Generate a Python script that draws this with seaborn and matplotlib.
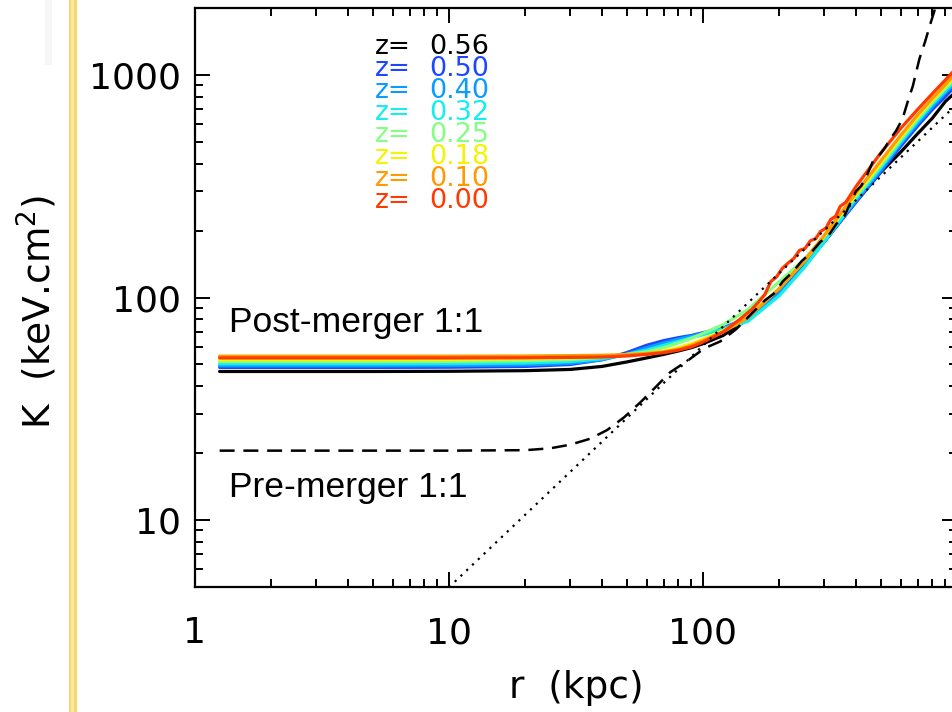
import numpy as np
import pandas as pd
import matplotlib
matplotlib.use("Agg")
import matplotlib.pyplot as plt
from matplotlib.patches import Rectangle
import seaborn as sns

# ---------------- data ----------------
R = [1.25, 5, 10, 20, 30, 40, 50, 60, 70, 80, 90, 100, 120, 150, 200, 250, 300,
     400, 500, 600, 700, 800, 900, 1000]

K_056 = [46.5, 46.5, 46.6, 46.9, 47.5, 49.0, 51.3, 53.5, 55.5, 57.5, 59.5, 62.0,
         67.5, 80, 108, 140, 178, 270, 365, 450, 545, 640, 760, 850]
K_050 = [48.5, 48.5, 48.6, 49.0, 50.0, 52.5, 56.5, 61.0, 64.0, 66.0, 67.5, 69.5,
         73.0, 81, 106, 138, 178, 268, 365, 478, 590, 700, 800, 910]
K_040 = [49.3, 49.3, 49.4, 49.8, 50.6, 52.5, 55.5, 59.5, 62.5, 65.0, 67.0, 69.0,
         73.0, 80, 104, 137, 178, 272, 372, 490, 605, 720, 830, 935]
K_032 = [50.3, 50.3, 50.4, 50.8, 51.5, 53.0, 55.5, 58.0, 61.0, 63.5, 66.0, 68.0,
         72.0, 78, 102, 136, 178, 278, 382, 500, 620, 740, 850, 960]
K_025 = [51.5, 51.5, 51.6, 52.0, 52.6, 53.8, 55.5, 57.0, 59.5, 62.5, 65.5, 69.0,
         75.5, 88, 118, 148, 188, 285, 392, 512, 635, 755, 870, 985]
K_018 = [52.5, 52.5, 52.6, 53.0, 53.5, 54.3, 55.0, 56.0, 57.5, 59.5, 62.0, 65.0,
         71.0, 82, 110, 145, 188, 290, 400, 525, 650, 770, 890, 1010]
K_010 = [54.5, 54.5, 54.5, 54.6, 54.8, 55.0, 55.4, 56.0, 57.0, 58.5, 61.0, 64.0,
         70.0, 81, 110, 146, 190, 295, 410, 535, 662, 785, 905, 1040]

R_000 = [1.25, 5, 10, 20, 30, 40, 50, 60, 70, 80, 90, 100, 120, 140, 155, 165, 175,
         185, 195, 205, 215, 228, 240, 252, 265, 278, 290, 305, 318, 333, 347, 365,
         400, 500, 600, 700, 800, 900, 1000]
K_000 = [53.5, 53.5, 53.5, 53.6, 53.8, 54.0, 54.6, 55.5, 56.5, 58.0, 60.0, 63.0,
         70.0, 80, 88, 95, 103, 118, 124, 135, 142, 150, 163, 166, 180, 184, 198,
         205, 224, 232, 257, 268, 315, 445, 575, 700, 825, 950, 1080]

# pre-merger profile (dashed)
R_pre = [1.25, 10, 20, 25, 30, 36, 42, 49, 57, 65, 74, 88, 101, 117, 135, 156, 175,
         190, 206, 225, 245, 265, 290, 310, 335, 360, 380, 400, 420, 440, 467, 490,
         520, 545, 575, 610, 640, 670, 711, 750, 781, 819, 860]
K_pre = [20.5, 20.5, 20.6, 21.0, 21.8, 23.2, 25.4, 29.0, 34.0, 39.5, 46.0, 52.5,
         59.0, 63.5, 72, 85, 97, 104, 118, 130, 146, 158, 178, 188, 214, 232, 265,
         300, 318, 350, 410, 430, 470, 515, 560, 634, 760, 892, 1180, 1420, 1662,
         1981, 2300]

# baseline power law (dotted)
R_dot = [9.0, 1000]
K_dot = [4.45, 740]

Z_LABELS = ["0.56", "0.50", "0.40", "0.32", "0.25", "0.18", "0.10", "0.00"]
Z_COLORS = ["#000000", "#1e46ff", "#0a9cff", "#14eeee", "#84ff84", "#f4f400",
            "#ff9a00", "#ff3a00"]
PROFILES = [(R, K_056), (R, K_050), (R, K_040), (R, K_032), (R, K_025),
            (R, K_018), (R, K_010), (R_000, K_000)]

X_TICKS = [1, 10, 100, 1000]
X_TICKLABELS = ["1", "10", "100", ""]
Y_TICKS = [10, 100, 1000]
Y_TICKLABELS = ["10", "100", "1000"]

# ---------------- styling ----------------
sns.set_theme(style="white")
plt.rcParams["font.family"] = ["DejaVu Sans"]
plt.rcParams["mathtext.fontset"] = "dejavusans"
plt.rcParams["text.color"] = "black"
plt.rcParams["axes.labelcolor"] = "black"
plt.rcParams["xtick.color"] = "black"
plt.rcParams["ytick.color"] = "black"

W, H = 953, 712
fig = plt.figure(figsize=(W / 100, H / 100), dpi=100, facecolor="white")
ax = fig.add_axes([195 / W, (H - 587) / H, 762 / W, 579 / H])
ax.set_facecolor("white")

for (rr, kk), col in zip(PROFILES, Z_COLORS):
    df = pd.DataFrame({"r": rr, "K": kk})
    sns.lineplot(data=df, x="r", y="K", ax=ax, color=col, lw=2.3,
                 estimator=None, sort=False, legend=False)

df_pre = pd.DataFrame({"r": R_pre, "K": K_pre})
sns.lineplot(data=df_pre, x="r", y="K", ax=ax, color="black", lw=1.8,
             estimator=None, sort=False, legend=False)
ax.lines[-1].set_dashes([6, 3.5])

df_dot = pd.DataFrame({"r": R_dot, "K": K_dot})
sns.lineplot(data=df_dot, x="r", y="K", ax=ax, color="black", lw=1.6,
             estimator=None, sort=False, legend=False)
ax.lines[-1].set_dashes([1, 2.6])

ax.set_xscale("log")
ax.set_yscale("log")
ax.set_xlim(1, 1000)
ax.set_ylim(5, 2000)

ax.set_xticks(X_TICKS)
ax.set_xticklabels(X_TICKLABELS)
ax.set_yticks(Y_TICKS)
ax.set_yticklabels(Y_TICKLABELS)

for sp in ax.spines.values():
    sp.set_linewidth(1.6)
    sp.set_color("black")

ax.tick_params(which="both", direction="in", top=True, right=True,
               bottom=True, left=True, color="black", width=1.4,
               labelcolor="black")
ax.tick_params(which="major", length=10.5, labelsize=26)
ax.tick_params(which="minor", length=5.5)
ax.tick_params(axis="x", which="major", pad=21)
ax.tick_params(axis="y", which="major", pad=10)

ax.set_xlabel("r  (kpc)", fontsize=27, color="black")
ax.set_ylabel(r"K  (keV.cm$^{2}$)", fontsize=27, color="black")
ax.xaxis.set_label_coords(0.5, -0.143)
ax.yaxis.set_label_coords(-0.178, 0.475)

# annotations
ax.text(1.36, 70.3, "Post-merger 1:1", fontsize=25.5, family="Liberation Sans",
        ha="left", va="baseline", color="black")
ax.text(1.36, 12.7, "Pre-merger 1:1", fontsize=25.5, family="Liberation Sans",
        ha="left", va="baseline", color="black")

# colored redshift labels
y0 = (587 - 53.5) / 579
dy = 22.1 / 579
for i, (lab, col) in enumerate(zip(Z_LABELS, Z_COLORS)):
    yy = y0 - i * dy
    ax.text(0.236, yy, "z=", transform=ax.transAxes, fontsize=19,
            color=col, ha="left", va="baseline")
    ax.text(0.308, yy, lab, transform=ax.transAxes, fontsize=19.5,
            color=col, ha="left", va="baseline")

# decorative strips at the left edge of the image
fig.add_artist(Rectangle((45 / W, (H - 65) / H), 7 / W, 65 / H,
                         transform=fig.transFigure, color="#f6f6f9", lw=0))
fig.add_artist(Rectangle((69 / W, 0), 8 / W, 1, transform=fig.transFigure,
                         color="#f6d86c", lw=0))
fig.add_artist(Rectangle((71.5 / W, 0), 3 / W, 1, transform=fig.transFigure,
                         color="#fbeaa6", lw=0))

fig.savefig("out.png", dpi=100, facecolor="white")
